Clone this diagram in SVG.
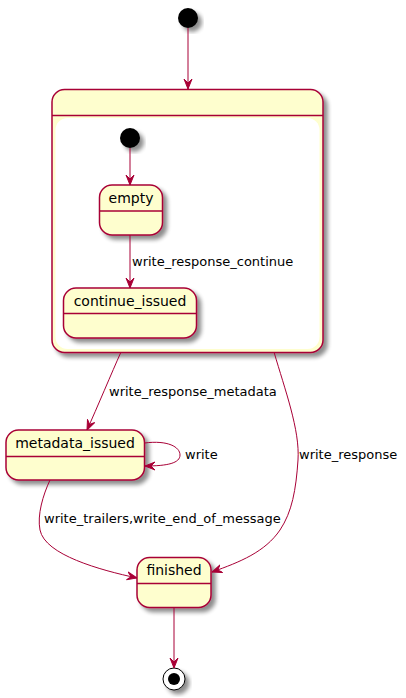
<svg xmlns="http://www.w3.org/2000/svg" width="406" height="698" viewBox="0 0 406 698">
<style>
.st{fill:#FEFECE;stroke:#A80036;stroke-width:1.5}
.sep{stroke:#A80036;stroke-width:1.5}
.ln{fill:none;stroke:#A80036;stroke-width:1}
.nm{font-family:"DejaVu Sans",sans-serif;font-size:14px;fill:#000;text-anchor:middle}
.lb{font-family:"DejaVu Sans",sans-serif;font-size:13px;fill:#000}
.sh{filter:url(#shadow)}
</style>
<defs>
<filter id="shadow" x="-20%" y="-20%" width="150%" height="150%">
<feGaussianBlur in="SourceAlpha" stdDeviation="2"/>
<feOffset dx="4" dy="4" result="b"/>
<feComponentTransfer><feFuncA type="linear" slope="0.45"/></feComponentTransfer>
<feMerge><feMergeNode/><feMergeNode in="SourceGraphic"/></feMerge>
</filter>
<marker id="arr" markerUnits="userSpaceOnUse" markerWidth="10" markerHeight="10" refX="10" refY="5" orient="auto" viewBox="0 0 10 10">
<path d="M0,1 L10,5 L0,9 L4,5 Z" fill="#A80036" stroke="#A80036" stroke-width="1"/>
</marker>
</defs>

<g id="start">
<circle class="sh" cx="188" cy="18" r="10" fill="#000"/>
</g>

<g id="composite">
<rect class="st sh" x="52" y="89.5" width="271" height="263" rx="12.5" ry="12.5"/>
<line class="sep" x1="52" y1="115.5" x2="323" y2="115.5"/>
<rect x="55.5" y="118" width="264" height="231" rx="12" ry="12" fill="#FFFFFF"/>
</g>

<g id="inner_start">
<circle class="sh" cx="130" cy="138" r="10" fill="#000"/>
</g>

<g id="empty">
<rect class="st sh" x="99.5" y="185" width="63" height="50" rx="12.5" ry="12.5"/>
<line class="sep" x1="99.5" y1="211" x2="162.5" y2="211"/>
<text class="nm" x="131" y="203">empty</text>
</g>

<g id="continue_issued">
<rect class="st sh" x="63.5" y="288" width="133" height="50" rx="12.5" ry="12.5"/>
<line class="sep" x1="63.5" y1="313.5" x2="196.5" y2="313.5"/>
<text class="nm" x="130" y="306">continue_issued</text>
</g>

<g id="metadata_issued">
<rect class="st sh" x="6" y="430" width="138.5" height="50" rx="12.5" ry="12.5"/>
<line class="sep" x1="6" y1="456.5" x2="144.5" y2="456.5"/>
<text class="nm" x="75" y="448">metadata_issued</text>
</g>

<g id="finished">
<rect class="st sh" x="137" y="557.5" width="74" height="50" rx="12.5" ry="12.5"/>
<line class="sep" x1="137" y1="583.5" x2="211" y2="583.5"/>
<text class="nm" x="174" y="575">finished</text>
</g>

<g id="end">
<circle class="sh" cx="174" cy="679" r="11" fill="#FFFFFF" stroke="#000" stroke-width="1"/>
<circle cx="174" cy="679" r="6" fill="#000"/>
</g>

<g id="connectors">
<path class="ln" d="M188,28 L188,89" marker-end="url(#arr)"/>
<path class="ln" d="M130,148 L130,185" marker-end="url(#arr)"/>
<path class="ln" d="M130,235 L130,288" marker-end="url(#arr)"/>
<text class="lb" x="132" y="266">write_response_continue</text>
<path class="ln" d="M121,352 C112,372 97,408 87,430" marker-end="url(#arr)"/>
<text class="lb" x="109" y="396">write_response_metadata</text>
<path class="ln" d="M144.5,443 C168,440 180,447 180,455 C180,463 168,466 145,466" marker-end="url(#arr)"/>
<text class="lb" x="185" y="459">write</text>
<path class="ln" d="M274,352 C285,390 300,430 298,460 C296,490 292,512 280,530 C265,552 240,562 212,572" marker-end="url(#arr)"/>
<text class="lb" x="299" y="459">write_response</text>
<path class="ln" d="M50,480 C43,495 37,515 40,530 C45,555 100,570 137,578" marker-end="url(#arr)"/>
<text class="lb" x="44" y="523">write_trailers,write_end_of_message</text>
<path class="ln" d="M174,607.5 L174,668" marker-end="url(#arr)"/>
</g>
</svg>
